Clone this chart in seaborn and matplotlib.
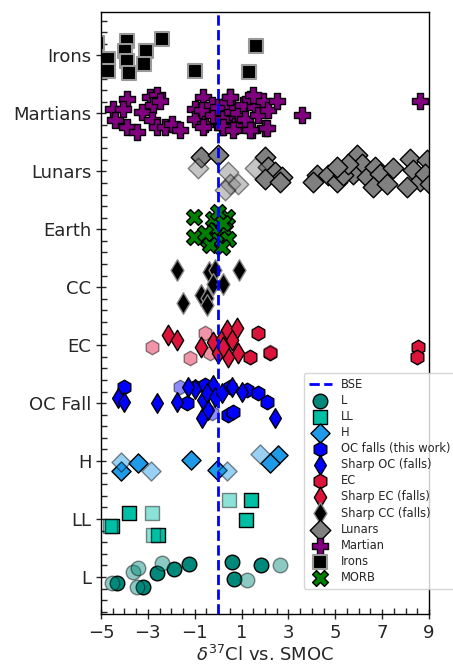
import matplotlib
matplotlib.use("Agg")
import matplotlib.pyplot as plt
import seaborn as sns
from matplotlib.ticker import AutoMinorLocator

sns.set_style("ticks")
plt.rcParams['font.family'] = ['DejaVu Sans']

categories = ["L", "LL", "H", "OC Fall", "EC", "CC", "Earth", "Lunars", "Martians", "Irons"]
x_ticks = [-5, -3, -1, 1, 3, 5, 7, 9]
bse_value = 0.0

# values (delta37Cl) and vertical offsets within each row
L_x = [-4.33, -3.22, -2.62, -1.88, -1.24, 0.58, 0.68, 1.82]
L_dy = [-0.11, -0.17, 0.07, 0.13, 0.22, 0.26, -0.04, 0.21]
L_lit_x = [-4.54, -3.62, -3.41, -3.48, -2.41, 1.24, 2.64]
L_lit_dy = [-0.11, 0.09, 0.15, -0.17, 0.24, -0.05, 0.21]

LL_x = [-4.54, -3.79, -2.55, 1.39, 1.19]
LL_dy = [-0.12, 0.11, -0.28, 0.32, -0.01]
LL_lit_x = [-4.62, -2.84, -2.77, 0.48]
LL_lit_dy = [-0.12, 0.11, -0.28, 0.32]

H_x = [-4.16, -3.41, -1.17, -0.06, 2.57, 2.21]
H_dy = [-0.18, -0.04, 0.02, -0.16, 0.10, -0.03]
H_lit_x = [-4.16, -2.88, 0.36, 1.79]
H_lit_dy = [-0.01, -0.18, -0.18, 0.12]

OC_x = [-4.01, -1.34, -0.99, -0.56, 0.51, 1.22, 1.71, 2.07, 0.43, 0.65]
OC_dy = [0.28, 0.0, 0.28, 0.31, 0.28, 0.22, 0.17, 0.02, -0.21, -0.15]
OC_lit_x = [-1.63, -0.28]
OC_lit_dy = [0.28, -0.17]

SOC_x = [-4.29, -4.01, -2.62, -1.77, -0.99, -0.63, -0.70, -0.21, -0.49, -0.42,
         -0.13, 0.15, 0.58, 1.00, 2.43, -1.29]
SOC_dy = [0.08, 0.02, 0.01, 0.02, 0.25, 0.05, -0.26, 0.31, 0.17, -0.12,
          0.11, 0.17, 0.28, 0.19, -0.26, 0.28]

EC_x = [1.71, 1.36, 2.21, 8.54, 8.50]
EC_dy = [0.21, -0.20, -0.14, -0.04, -0.20]
EC_lit_x = [-2.84, -1.20, -0.56, -0.35, 2.21]
EC_lit_dy = [-0.04, -0.23, 0.21, -0.14, -0.12]

SEC_x = [-2.13, -1.74, -0.73, -0.23, 0.15, 0.36, 0.79, 0.58, 0.01, 0.43, 0.86, 0.22]
SEC_dy = [0.17, 0.09, -0.03, 0.06, 0.10, 0.26, 0.29, 0.09, -0.14, -0.20, -0.14, -0.03]

SCC_x = [-1.74, -0.38, -0.13, 0.90, -0.21, 0.19, -0.73, -0.49, -0.46, -1.51]
SCC_dy = [0.29, 0.26, 0.29, 0.29, 0.06, 0.06, -0.14, -0.19, -0.31, -0.28]

MORB_x = [-1.03, -1.03, -0.21, 0.36, 0.01, -0.13, 0.29, -0.42, 0.01, 0.43, -0.35, 0.15, -0.56, 0.22]
MORB_dy = [0.21, -0.14, 0.18, 0.22, 0.30, -0.02, -0.02, -0.19, -0.19, -0.16, -0.28, -0.31, -0.07, 0.10]

Lun_x = [-0.75, 0.01, 2.00, 2.14, 2.43, 2.71, 2.00, 2.64, 4.21, 4.06, 4.70, 5.06,
         5.91, 6.13, 5.77, 6.34, 6.69, 6.91, 6.62, 7.19, 7.48, 8.19, 8.33, 8.62,
         8.05, 8.90, 8.83, 9.04, 5.33, 5.55, 5.06]
Lun_dy = [0.25, 0.28, 0.25, 0.07, -0.01, -0.10, -0.13, -0.18, -0.07, -0.18, -0.07, -0.18,
          0.28, 0.13, -0.04, -0.10, 0.07, -0.04, -0.27, -0.21, 0.05, 0.22, 0.02, -0.16,
          -0.27, 0.19, -0.04, -0.21, -0.07, 0.13, 0.07]
Lun_lit_x = [-0.85, 0.43, 0.51, 0.86, 0.29, 1.57]
Lun_lit_dy = [0.05, -0.01, -0.21, -0.21, -0.33, 0.05]

Mars_x = [-4.48, -3.90, -4.05, -4.40, -3.90, -3.48, -3.26, -2.91, -2.62, -2.77,
          -2.48, -2.84, -2.62, -2.27, -1.98, -1.63, -0.99, -0.99, -0.63, -0.70,
          -0.56, -0.28, -0.21, 0.01, 0.22, 0.15, 0.36, 0.51, 0.58, 0.72,
          0.86, 1.07, 1.15, 1.36, 1.43, 1.57, 1.71, 1.93, 2.00, 2.14,
          2.50, 3.59, 8.61, 0.22, 0.65, 1.36, 2.07, -0.63, 0.51, 1.50]
Mars_dy = [0.08, 0.25, 0.08, -0.12, -0.24, -0.32, 0.02, 0.28, 0.31, 0.14,
           0.22, -0.12, -0.24, -0.24, -0.18, -0.29, 0.08, -0.09, 0.28, 0.05,
           -0.18, 0.14, -0.03, 0.11, -0.09, -0.24, 0.19, 0.28, 0.02, -0.21,
           0.0, 0.14, -0.09, 0.25, -0.29, 0.11, -0.03, 0.22, -0.26, 0.05,
           0.22, -0.03, 0.21, -0.24, -0.29, -0.29, -0.26, -0.24, 0.28, 0.31]

Iron_x = [-5.17, -3.90, -2.41, -3.98, -3.08, -4.72, -3.88, -3.15, -4.69, -3.79, -0.99, 1.62, 1.32]
Iron_dy = [0.21, 0.25, 0.28, 0.07, 0.07, -0.06, -0.10, -0.14, -0.27, -0.31, -0.26, 0.17, -0.28]

fig = plt.figure(figsize=(4.53, 6.65), dpi=100)
ax = fig.add_axes([101 / 453, 1 - 614 / 665, 328 / 453, 602 / 665])


def rows(name, dy):
    base = categories.index(name)
    return [base + d for d in dy]


def sc(x, y, **kw):
    sns.scatterplot(x=x, y=y, ax=ax, legend=False, **kw)
    return ax.collections[-1]


bse = ax.axvline(bse_value, color="blue", ls="--", lw=2, zorder=4, label="BSE")

hL = sc(L_x, rows("L", L_dy), color="#00897B", marker="o", s=110, edgecolor="black", linewidth=1)
sc(L_lit_x, rows("L", L_lit_dy), color="#00897B", marker="o", s=110, edgecolor="black", linewidth=1, alpha=0.45)
hLL = sc(LL_x, rows("LL", LL_dy), color="#00BFA5", marker="s", s=100, edgecolor="black", linewidth=1)
sc(LL_lit_x, rows("LL", LL_lit_dy), color="#00BFA5", marker="s", s=100, edgecolor="black", linewidth=1, alpha=0.45)
hH = sc(H_x, rows("H", H_dy), color="#1E9AE8", marker="D", s=95, edgecolor="black", linewidth=1)
sc(H_lit_x, rows("H", H_lit_dy), color="#1E9AE8", marker="D", s=95, edgecolor="black", linewidth=1, alpha=0.45)
hOC = sc(OC_x, rows("OC Fall", OC_dy), color="blue", marker="h", s=110, edgecolor="black", linewidth=1)
sc(OC_lit_x, rows("OC Fall", OC_lit_dy), color="blue", marker="h", s=110, edgecolor="black", linewidth=1, alpha=0.45)
hSOC = sc(SOC_x, rows("OC Fall", SOC_dy), color="blue", marker="d", s=100, edgecolor="black", linewidth=1)
hEC = sc(EC_x, rows("EC", EC_dy), color="#DC143C", marker="h", s=110, edgecolor="black", linewidth=1)
sc(EC_lit_x, rows("EC", EC_lit_dy), color="#DC143C", marker="h", s=110, edgecolor="black", linewidth=1, alpha=0.45)
hSEC = sc(SEC_x, rows("EC", SEC_dy), color="#DC143C", marker="d", s=110, edgecolor="black", linewidth=1)
hSCC = sc(SCC_x, rows("CC", SCC_dy), color="black", marker="d", s=120, edgecolor="#888888", linewidth=1)
hLun = sc(Lun_x, rows("Lunars", Lun_dy), color="#808080", marker="D", s=110, edgecolor="black", linewidth=1)
sc(Lun_lit_x, rows("Lunars", Lun_lit_dy), color="#808080", marker="D", s=110, edgecolor="black", linewidth=1, alpha=0.45)
hMar = sc(Mars_x, rows("Martians", Mars_dy), color="purple", marker="P", s=130, edgecolor="black", linewidth=1)
hIr = sc(Iron_x, rows("Irons", Iron_dy), color="black", marker="s", s=110, edgecolor="#999999", linewidth=1.5)
hMO = sc(MORB_x, rows("Earth", MORB_dy), color="green", marker="X", s=130, edgecolor="black", linewidth=1)

ax.set_xlim(-5, 9)
ax.set_ylim(-0.64, 9.75)
ax.set_xticks(x_ticks)
ax.set_xticklabels([f"{t}".replace("-", "\u2212") for t in x_ticks])
ax.set_yticks(range(len(categories)))
ax.set_yticklabels(categories)
ax.xaxis.set_minor_locator(AutoMinorLocator())
ax.yaxis.set_minor_locator(AutoMinorLocator())
ax.tick_params(which="major", direction="inout", length=7, width=1, labelsize=13, top=False, right=False)
ax.tick_params(which="minor", direction="in", length=4, width=1, top=False, right=False)
for sp in ax.spines.values():
    sp.set_linewidth(1)
    sp.set_color("black")
ax.set_xlabel(r"$\delta^{37}$Cl vs. SMOC", fontsize=13, labelpad=2)
ax.set_ylabel("")

handles = [bse, hL, hLL, hH, hOC, hSOC, hEC, hSEC, hSCC, hLun, hMar, hIr, hMO]
labels = ["BSE", "L", "LL", "H", "OC falls (this work)", "Sharp OC (falls)", "EC",
          "Sharp EC (falls)", "Sharp CC (falls)", "Lunars", "Martian", "Irons", "MORB"]
ax.legend(handles, labels, loc="upper left", bbox_to_anchor=(304 / 453, 1 - 373 / 665),
          bbox_transform=fig.transFigure, borderaxespad=0, fontsize=8.3, frameon=True,
          scatterpoints=1, labelspacing=0.27)

fig.savefig("out.png", dpi=100)
